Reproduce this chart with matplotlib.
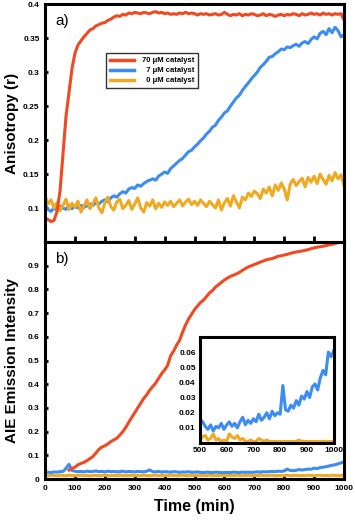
import matplotlib
matplotlib.use('Agg')
import matplotlib.pyplot as plt
from matplotlib.ticker import FormatStrFormatter
import numpy as np

plt.rcParams['font.family'] = ['Liberation Sans', 'DejaVu Sans']

# colours
RED = '#F04A23'
BLUE = '#3C8CF2'
ORANGE = '#EFAA22'

# ---- panel a) anisotropy, sampled every 10 min ----
t_a = list(range(0, 1001, 10))

aniso_70 = [0.085, 0.083, 0.080, 0.082, 0.095, 0.125, 0.180, 0.235, 0.270, 0.305,
            0.328, 0.340, 0.346, 0.352, 0.357, 0.362, 0.364, 0.368, 0.370, 0.372,
            0.373, 0.376, 0.378, 0.381, 0.383, 0.382, 0.385, 0.384, 0.387, 0.386,
            0.388, 0.387, 0.386, 0.388, 0.387, 0.386, 0.388, 0.389, 0.387, 0.388,
            0.386, 0.387, 0.385, 0.386, 0.385, 0.387, 0.386, 0.388, 0.386, 0.387,
            0.386, 0.384, 0.386, 0.385, 0.386, 0.384, 0.385, 0.386, 0.384, 0.385,
            0.388, 0.385, 0.383, 0.385, 0.384, 0.386, 0.383, 0.385, 0.384, 0.386,
            0.385, 0.383, 0.384, 0.386, 0.383, 0.385, 0.384, 0.382, 0.384, 0.385,
            0.383, 0.385, 0.384, 0.386, 0.385, 0.383, 0.386, 0.384, 0.385, 0.387,
            0.385, 0.386, 0.384, 0.387, 0.385, 0.386, 0.384, 0.386, 0.385, 0.386,
            0.377]

aniso_7 = [0.105, 0.098, 0.095, 0.100, 0.097, 0.103, 0.100, 0.098, 0.104, 0.099,
           0.103, 0.100, 0.104, 0.101, 0.103, 0.106, 0.104, 0.108, 0.106, 0.110,
           0.112, 0.109, 0.115, 0.118, 0.116, 0.121, 0.124, 0.122, 0.128, 0.130,
           0.129, 0.134, 0.132, 0.136, 0.139, 0.141, 0.143, 0.141, 0.147, 0.150,
           0.153, 0.151, 0.158, 0.162, 0.166, 0.170, 0.173, 0.178, 0.183, 0.185,
           0.190, 0.194, 0.199, 0.203, 0.209, 0.213, 0.219, 0.222, 0.229, 0.234,
           0.240, 0.243, 0.250, 0.256, 0.262, 0.266, 0.273, 0.279, 0.284, 0.290,
           0.295, 0.300, 0.307, 0.311, 0.316, 0.322, 0.323, 0.327, 0.330, 0.334,
           0.333, 0.337, 0.336, 0.339, 0.341, 0.338, 0.343, 0.345, 0.342, 0.348,
           0.352, 0.349, 0.357, 0.360, 0.355, 0.364, 0.358, 0.366, 0.361, 0.352,
           0.355]

aniso_0 = [0.118, 0.106, 0.112, 0.100, 0.108, 0.096, 0.104, 0.113, 0.098, 0.107,
           0.101, 0.110, 0.094, 0.103, 0.112, 0.099, 0.107, 0.115, 0.100, 0.093,
           0.108, 0.116, 0.102, 0.097, 0.109, 0.113, 0.099, 0.104, 0.111, 0.098,
           0.106, 0.115, 0.100, 0.094, 0.108, 0.103, 0.112, 0.099, 0.107, 0.101,
           0.109, 0.104, 0.110, 0.102, 0.107, 0.112, 0.103, 0.109, 0.113, 0.105,
           0.110, 0.104, 0.112, 0.107, 0.102, 0.110, 0.105, 0.100, 0.112, 0.097,
           0.108, 0.114, 0.103, 0.118, 0.109, 0.100, 0.116, 0.112, 0.122, 0.117,
           0.125, 0.121, 0.114, 0.128, 0.122, 0.131, 0.118, 0.134, 0.126, 0.137,
           0.128, 0.112, 0.135, 0.142, 0.133, 0.139, 0.144, 0.131, 0.145, 0.138,
           0.147, 0.136, 0.150, 0.142, 0.135, 0.148, 0.140, 0.152, 0.143, 0.149,
           0.133]

# ---- panel b) AIE emission ----
t_b = list(range(0, 1001, 10))

aie_7 = [0.028, 0.029, 0.027, 0.030, 0.029, 0.031, 0.032, 0.045, 0.062, 0.036,
         0.033, 0.031, 0.032, 0.030, 0.033, 0.031, 0.032, 0.034, 0.031, 0.032,
         0.030, 0.033, 0.031, 0.032, 0.030, 0.031, 0.033, 0.030, 0.032, 0.031,
         0.030, 0.032, 0.031, 0.030, 0.033, 0.038, 0.031, 0.030, 0.032, 0.029,
         0.031, 0.030, 0.029, 0.031, 0.030, 0.028, 0.030, 0.029, 0.031, 0.028,
         0.029, 0.030, 0.028, 0.027, 0.029, 0.028, 0.027, 0.029, 0.028, 0.027,
         0.027, 0.028, 0.027, 0.029, 0.028, 0.027, 0.029, 0.028, 0.029, 0.028,
         0.029, 0.030, 0.029, 0.031, 0.030, 0.031, 0.032, 0.031, 0.033, 0.032,
         0.034, 0.042, 0.036, 0.035, 0.037, 0.040, 0.038, 0.040, 0.042, 0.041,
         0.046, 0.044, 0.048, 0.050, 0.052, 0.055, 0.058, 0.060, 0.064, 0.068,
         0.072]

aie_0 = [0.015, 0.014, 0.016, 0.015, 0.013, 0.016, 0.015, 0.014, 0.016, 0.015,
         0.014, 0.015, 0.016, 0.014, 0.015, 0.013, 0.015, 0.016, 0.014, 0.015,
         0.016, 0.014, 0.015, 0.015, 0.014, 0.016, 0.015, 0.014, 0.015, 0.016,
         0.014, 0.015, 0.014, 0.016, 0.015, 0.014, 0.015, 0.016, 0.014, 0.015,
         0.015, 0.014, 0.016, 0.015, 0.014, 0.015, 0.016, 0.014, 0.015, 0.014,
         0.015, 0.016, 0.014, 0.015, 0.014, 0.016, 0.015, 0.014, 0.015, 0.016,
         0.014, 0.015, 0.015, 0.014, 0.016, 0.015, 0.014, 0.015, 0.016, 0.014,
         0.015, 0.014, 0.016, 0.015, 0.014, 0.015, 0.016, 0.014, 0.015, 0.014,
         0.015, 0.016, 0.014, 0.015, 0.016, 0.014, 0.015, 0.014, 0.016, 0.015,
         0.014, 0.015, 0.016, 0.014, 0.015, 0.014, 0.016, 0.015, 0.014, 0.015,
         0.015]

# 70 uM trace only starts around 80 min
t_b70 = list(range(80, 1001, 10))
aie_70 = [0.038, 0.045, 0.050, 0.060, 0.066, 0.070, 0.078, 0.086, 0.095, 0.110,
          0.125, 0.135, 0.140, 0.148, 0.158, 0.165, 0.172, 0.185, 0.200, 0.218,
          0.240, 0.260, 0.280, 0.300, 0.320, 0.340, 0.355, 0.375, 0.390, 0.405,
          0.425, 0.445, 0.460, 0.480, 0.520, 0.540, 0.565, 0.585, 0.620, 0.650,
          0.675, 0.695, 0.715, 0.730, 0.745, 0.755, 0.770, 0.785, 0.795, 0.810,
          0.820, 0.830, 0.840, 0.848, 0.855, 0.860, 0.865, 0.872, 0.880, 0.888,
          0.895, 0.900, 0.905, 0.910, 0.915, 0.920, 0.925, 0.928, 0.930, 0.935,
          0.940, 0.942, 0.945, 0.948, 0.952, 0.955, 0.958, 0.960, 0.962, 0.965,
          0.968, 0.972, 0.975, 0.978, 0.980, 0.982, 0.985, 0.988, 0.990, 0.994,
          0.997, 0.999, 1.000]

# inset, 500-1000 min
t_in = list(range(500, 1001, 10))
inset_7 = [0.016, 0.014, 0.011, 0.009, 0.012, 0.008, 0.011, 0.010, 0.013, 0.009,
           0.012, 0.014, 0.011, 0.013, 0.010, 0.014, 0.017, 0.012, 0.015, 0.013,
           0.016, 0.014, 0.019, 0.015, 0.017, 0.020, 0.016, 0.021, 0.018, 0.020,
           0.019, 0.038, 0.022, 0.021, 0.025, 0.023, 0.028, 0.025, 0.031, 0.029,
           0.034, 0.030, 0.037, 0.039, 0.035, 0.043, 0.048, 0.045, 0.060, 0.057,
           0.061]
inset_0 = [0.002, 0.004, 0.005, 0.002, 0.003, 0.006, 0.002, 0.003, 0.001, 0.002,
           0.001, 0.006, 0.004, 0.003, 0.005, 0.002, 0.003, 0.001, 0.001, 0.002,
           0.001, 0.001, 0.003, 0.002, 0.001, 0.002, 0.001, 0.001, 0.001, 0.001,
           0.001, 0.001, 0.001, 0.001, 0.001, 0.001, 0.001, 0.002, 0.001, 0.001,
           0.001, 0.001, 0.001, 0.001, 0.001, 0.001, 0.001, 0.001, 0.001, 0.001,
           0.001]

LW = 2.2
SPINE = 2.2

fig = plt.figure(figsize=(3.55, 5.21), dpi=100)
ax1 = fig.add_axes([0.127, 0.5355, 0.842, 0.4565])
ax2 = fig.add_axes([0.127, 0.0806, 0.842, 0.4549])

def style(ax):
    for s in ax.spines.values():
        s.set_linewidth(SPINE)
    ax.tick_params(axis='y', direction='in', length=2.5, width=2, pad=4,
                   labelsize=6)
    for lab in ax.get_yticklabels() + ax.get_xticklabels():
        lab.set_fontweight('bold')

# top panel
ax1.plot(t_a, aniso_7, color=BLUE, lw=LW, label='\u20077 \u03bcM catalyst')
ax1.plot(t_a, aniso_0, color=ORANGE, lw=LW, label='\u20070 \u03bcM catalyst')
ax1.plot(t_a, aniso_70, color=RED, lw=LW, label='70 \u03bcM catalyst')
ax1.set_xlim(0, 1000)
ax1.set_ylim(0.05, 0.4)
ax1.set_yticks([0.1, 0.15, 0.2, 0.25, 0.3, 0.35, 0.4])
ax1.yaxis.set_major_formatter(FormatStrFormatter('%g'))
ax1.set_xticks(range(100, 1000, 100))
ax1.tick_params(axis='x', direction='inout', length=8, width=2,
                labelbottom=False)
style(ax1)
ax1.set_ylabel('Anisotropy (r)', fontsize=11, fontweight='bold')
ax1.yaxis.set_label_coords(-0.088, 0.5)
ax1.text(0.033, 0.93, 'a)', transform=ax1.transAxes, fontsize=11,
         ha='left', va='center')
h, l = ax1.get_legend_handles_labels()
leg = ax1.legend([h[2], h[0], h[1]], [l[2], l[0], l[1]], loc='upper left',
                 bbox_to_anchor=(0.19, 0.81), frameon=True,
                 fancybox=False, edgecolor='black', handlelength=3.2,
                 handletextpad=1.0, labelspacing=0.35, borderpad=0.5,
                 prop={'weight': 'bold', 'size': 5.5})
leg.get_frame().set_linewidth(1.0)
for line in leg.get_lines():
    line.set_linewidth(2.5)

# bottom panel
ax2.plot(t_b, aie_0, color=ORANGE, lw=LW)
ax2.plot(t_b, aie_7, color=BLUE, lw=LW)
ax2.plot(t_b70, aie_70, color=RED, lw=LW)
ax2.set_xlim(0, 1000)
ax2.set_ylim(0, 1.0)
ax2.set_yticks([0, 0.1, 0.2, 0.3, 0.4, 0.5, 0.6, 0.7, 0.8, 0.9])
ax2.yaxis.set_major_formatter(FormatStrFormatter('%g'))
ax2.set_xticks(range(0, 1001, 100))
ax2.tick_params(axis='x', direction='in', length=3, width=2, pad=4,
                labelsize=6)
style(ax2)
ax2.set_ylabel('AIE Emission Intensity', fontsize=11, fontweight='bold')
ax2.yaxis.set_label_coords(-0.088, 0.5)
ax2.set_xlabel('Time (min)', fontsize=11.5, fontweight='bold', labelpad=5)
ax2.text(0.033, 0.93, 'b)', transform=ax2.transAxes, fontsize=11,
         ha='left', va='center')

# inset
axi = fig.add_axes([0.563, 0.1497, 0.377, 0.2035])
axi.plot(t_in, inset_0, color=ORANGE, lw=LW)
axi.plot(t_in, inset_7, color=BLUE, lw=LW)
axi.set_xlim(500, 1000)
axi.set_ylim(0, 0.07)
axi.set_yticks([0.01, 0.02, 0.03, 0.04, 0.05, 0.06])
axi.yaxis.set_major_formatter(FormatStrFormatter('%g'))
axi.set_xticks(range(500, 1001, 100))
axi.tick_params(axis='x', direction='in', length=0, pad=3, labelsize=6)
axi.tick_params(axis='y', direction='in', length=0, pad=3, labelsize=6)
for s in axi.spines.values():
    s.set_linewidth(SPINE)
for lab in axi.get_yticklabels() + axi.get_xticklabels():
    lab.set_fontweight('bold')

fig.savefig('out.png', dpi=100)
